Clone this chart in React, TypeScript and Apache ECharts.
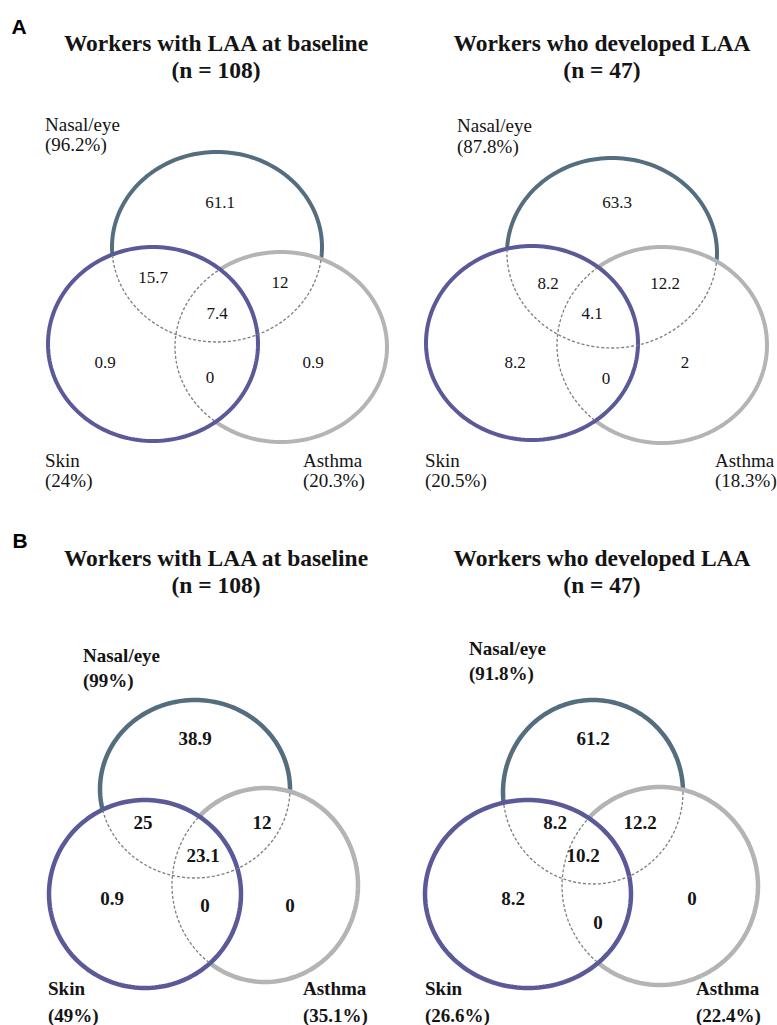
import React, { useEffect, useRef } from 'react';
import * as echarts from 'echarts';

// ---------- data ----------
const panelLetters = ['A', 'B'];
const panelTitles = [
  'Workers with LAA at baseline',
  'Workers who developed LAA',
  'Workers with LAA at baseline',
  'Workers who developed LAA',
];
const panelN = [108, 47, 108, 47];
const setNames = ['Nasal/eye', 'Skin', 'Asthma'];
// percent of workers with each symptom: [Nasal/eye, Skin, Asthma]
const setPercents = [
  [96.2, 24, 20.3],
  [87.8, 20.5, 18.3],
  [99, 49, 35.1],
  [91.8, 26.6, 22.4],
];
// region order: Nasal only, Nasal+Skin, Nasal+Asthma, All three, Skin only, Skin+Asthma, Asthma only
const regionValues = [
  [61.1, 15.7, 12, 7.4, 0.9, 0, 0.9],
  [63.3, 8.2, 12.2, 4.1, 8.2, 0, 2],
  [38.9, 25, 12, 23.1, 0.9, 0, 0],
  [61.2, 8.2, 12.2, 10.2, 8.2, 0, 0],
];

// ---------- layout (panel-local units) ----------
const panelBoxes = [
  [0, 0, 388, 500],
  [388, 0, 389, 500],
  [0, 500, 388, 525],
  [388, 500, 389, 525],
];
// circle geometry per panel: [cx, cy, rx, ry] for Nasal/eye, Skin, Asthma
const circleLayout = [
  [[217, 247, 105, 95], [153, 344, 105, 97], [281, 347, 106, 95]],
  [[224, 253, 105, 95], [144, 343, 106, 97], [274, 345, 105, 98]],
  [[195, 289, 95, 89], [145, 394, 96, 94], [265, 385, 93, 97]],
  [[205, 292, 90, 92], [140, 394, 103, 94], [272, 386, 98, 99]],
];
const regionLabelLayout = [
  [[220, 202], [153, 277], [280, 282], [217, 313], [105, 362], [210, 377], [313, 362]],
  [[229, 202], [160, 283], [277, 283], [204, 313], [127, 362], [218, 378], [297, 362]],
  [[195, 238], [143, 322], [262, 322], [203, 355], [112, 398], [205, 405], [290, 405]],
  [[205, 238], [167, 322], [252, 322], [195, 355], [125, 398], [210, 422], [304, 398]],
];
// [x, y of name, y of percent]
const setLabelLayout = [
  [[45, 124, 144], [45, 460, 480], [303, 460, 480]],
  [[69, 125, 146], [37, 460, 480], [327, 460, 480]],
  [[83, 155, 180], [48, 488, 515], [303, 488, 515]],
  [[81, 148, 173], [37, 488, 515], [308, 488, 515]],
];
// [centre x within panel, absolute y of line 1, absolute y of line 2]
const titleLayout = [
  [216, 43, 70],
  [214, 43, 70],
  [216, 558, 585],
  [214, 558, 585],
];
const letterLayout = [
  [19, 26],
  [20, 540],
];
const boldPanel = [false, false, true, true];
const setColors = ['#546e80', '#5b5a99', '#b4b4b4'];
const hiddenColor = '#7e7e7e';
const drawOrder = [0, 2, 1];
const occluders = [[1, 2], [], [1]];
const SERIF = '"Liberation Serif", "Times New Roman", serif';

function inside(e: number[], x: number, y: number) {
  const dx = (x - e[0]) / e[2];
  const dy = (y - e[1]) / e[3];
  return dx * dx + dy * dy < 0.985;
}

function buildOption() {
  const grid: any[] = [];
  const xAxis: any[] = [];
  const yAxis: any[] = [];
  const series: any[] = [];
  const graphic: any[] = [];

  panelBoxes.forEach((b, i) => {
    grid.push({ left: b[0], top: b[1], width: b[2], height: b[3], containLabel: false });
    xAxis.push({ type: 'value', gridIndex: i, min: 0, max: b[2], show: false });
    yAxis.push({ type: 'value', gridIndex: i, min: 0, max: b[3], inverse: true, show: false });
    const bold = boldPanel[i];
    const lw = bold ? 4.5 : 4;

    // circles
    series.push({
      type: 'custom',
      name: 'circles-' + i,
      xAxisIndex: i,
      yAxisIndex: i,
      clip: false,
      z: 2,
      data: drawOrder.map((s) => [...circleLayout[i][s], s]),
      renderItem: (params: any, api: any) => {
        const cx = api.value(0), cy = api.value(1), rx = api.value(2), ry = api.value(3), s = api.value(4);
        const pts: number[][] = [];
        const N = 180;
        for (let k = 0; k < N; k++) {
          const a = (k / N) * Math.PI * 2;
          pts.push(api.coord([cx + rx * Math.cos(a), cy + ry * Math.sin(a)]));
        }
        return {
          type: 'polygon',
          shape: { points: pts },
          style: { fill: '#ffffff', stroke: setColors[s], lineWidth: lw },
        };
      },
    });

    // hidden (dotted) arcs
    series.push({
      type: 'custom',
      name: 'hidden-' + i,
      xAxisIndex: i,
      yAxisIndex: i,
      clip: false,
      z: 3,
      data: [0, 2].map((s) => [circleLayout[i][s][0], circleLayout[i][s][1], s]),
      renderItem: (params: any, api: any) => {
        const s = api.value(2);
        const e = circleLayout[i][s];
        const occ = occluders[s].map((o) => circleLayout[i][o]);
        const N = 360;
        const pt = (k: number) => {
          const a = (k / N) * Math.PI * 2;
          return [e[0] + e[2] * Math.cos(a), e[1] + e[3] * Math.sin(a)];
        };
        const isIn = (k: number) => {
          const p = pt(k);
          return occ.some((o) => inside(o, p[0], p[1]));
        };
        let start = 0;
        for (let k = 0; k < N; k++) {
          if (!isIn(k)) { start = k; break; }
        }
        const runs: number[][][] = [];
        let cur: number[][] | null = null;
        for (let j = 0; j <= N; j++) {
          const k = (start + j) % N;
          if (isIn(k)) {
            if (!cur) { cur = []; runs.push(cur); }
            cur.push(api.coord(pt(k)));
          } else {
            cur = null;
          }
        }
        return {
          type: 'group',
          children: runs.filter((r) => r.length > 1).map((r) => ({
            type: 'polyline',
            shape: { points: r },
            style: { stroke: hiddenColor, lineWidth: 1.3, lineDash: [3, 2], fill: null },
          })),
        };
      },
    });

    // region values
    series.push({
      type: 'custom',
      name: 'values-' + i,
      xAxisIndex: i,
      yAxisIndex: i,
      clip: false,
      z: 4,
      data: regionLabelLayout[i].map((p, k) => [p[0], p[1], regionValues[i][k]]),
      renderItem: (params: any, api: any) => {
        const c = api.coord([api.value(0), api.value(1)]);
        return {
          type: 'text',
          x: c[0],
          y: c[1],
          style: {
            text: String(api.value(2)),
            align: 'center',
            verticalAlign: 'middle',
            fontFamily: SERIF,
            fontSize: bold ? 19 : 17,
            fontWeight: bold ? 'bold' : 'normal',
            fill: '#141414',
          },
        };
      },
    });

    // set labels
    series.push({
      type: 'custom',
      name: 'sets-' + i,
      xAxisIndex: i,
      yAxisIndex: i,
      clip: false,
      z: 4,
      data: setLabelLayout[i].map((p, k) => [p[0], p[1], p[2], k]),
      renderItem: (params: any, api: any) => {
        const k = api.value(3);
        const c1 = api.coord([api.value(0), api.value(1)]);
        const c2 = api.coord([api.value(0), api.value(2)]);
        const st = {
          align: 'left',
          verticalAlign: 'middle',
          fontFamily: SERIF,
          fontSize: 19,
          fontWeight: bold ? 'bold' : 'normal',
          fill: '#141414',
        };
        return {
          type: 'group',
          children: [
            { type: 'text', x: c1[0], y: c1[1], style: { ...st, text: setNames[k] } },
            { type: 'text', x: c2[0], y: c2[1], style: { ...st, text: '(' + setPercents[i][k] + '%)' } },
          ],
        };
      },
    });

    // titles
    const t = titleLayout[i];
    const tStyle = {
      align: 'center',
      verticalAlign: 'middle',
      fontFamily: SERIF,
      fontSize: 23.5,
      fontWeight: 'bold',
      fill: '#141414',
    };
    graphic.push({ type: 'text', x: b[0] + t[0], y: t[1], style: { ...tStyle, text: panelTitles[i] } });
    graphic.push({ type: 'text', x: b[0] + t[0], y: t[2], style: { ...tStyle, text: '(n = ' + panelN[i] + ')' } });
  });

  panelLetters.forEach((L, j) => {
    graphic.push({
      type: 'text',
      x: letterLayout[j][0],
      y: letterLayout[j][1],
      style: {
        text: L,
        align: 'center',
        verticalAlign: 'middle',
        fontFamily: '"Liberation Sans", Arial, sans-serif',
        fontSize: 21,
        fontWeight: 'bold',
        fill: '#000',
      },
    });
  });

  return {
    animation: false,
    backgroundColor: '#ffffff',
    grid,
    xAxis,
    yAxis,
    series,
    graphic,
  };
}

export default function App() {
  const ref = useRef<HTMLDivElement>(null);
  useEffect(() => {
    if (!ref.current) return;
    const chart = echarts.init(ref.current, undefined, { renderer: 'svg' });
    chart.setOption(buildOption() as any);
    return () => chart.dispose();
  }, []);
  return (
    <div
      ref={ref}
      style={{ position: 'absolute', left: 0, top: 0, width: 777, height: 1025, background: '#fff' }}
    />
  );
}
